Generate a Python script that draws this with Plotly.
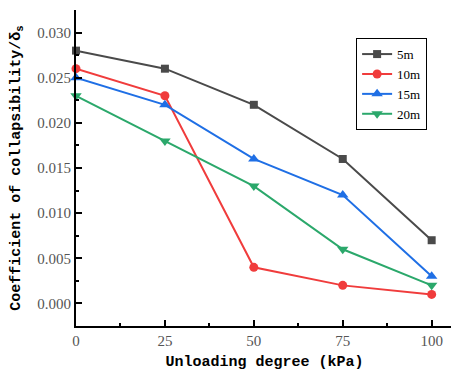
import plotly.graph_objects as go

unloading = [0, 25, 50, 75, 100]
s5 = [0.028, 0.026, 0.022, 0.016, 0.007]
s10 = [0.026, 0.023, 0.004, 0.002, 0.001]
s15 = [0.025, 0.022, 0.016, 0.012, 0.003]
s20 = [0.023, 0.018, 0.013, 0.006, 0.002]
names = ["5m", "10m", "15m", "20m"]
colors = ["#4a4a4a", "#f03c3c", "#1f6fe5", "#2ba86b"]
symbols = ["square", "circle", "triangle-up", "triangle-down"]
sizes = [8, 9, 10, 10]

fig = go.Figure()
for name, ys, c, s, sz in zip(names, [s5, s10, s15, s20], colors, symbols, sizes):
    fig.add_trace(go.Scatter(x=unloading, y=ys, name=name, mode="lines+markers",
                             line=dict(color=c, width=2),
                             marker=dict(symbol=s, size=sz, color=c),
                             cliponaxis=False))

serif = "Liberation Serif, DejaVu Serif, serif"
tickfont = dict(family=serif, size=15, color="#555555")
titlefont = dict(family="Liberation Mono", size=15, color="#000000")
# page body has an 8px margin, so the figure is sized to fit the window
fig.update_layout(
    width=451, height=363,
    margin=dict(l=68, r=6, t=2, b=45),
    plot_bgcolor="white", paper_bgcolor="white",
    showlegend=True,
    legend=dict(x=0.743, y=0.911, xanchor="left", yanchor="top",
                bordercolor="#000000", borderwidth=1, bgcolor="white",
                font=dict(family=serif, size=13, color="#000000"),
                itemwidth=30, tracegroupgap=0),
)
fig.update_xaxes(range=[0, 106], tickvals=[0, 25, 50, 75, 100],
                 ticks="inside", ticklen=6, tickwidth=2, tickcolor="black",
                 minor=dict(tickvals=[12.5, 37.5, 62.5, 87.5], ticks="inside", ticklen=3, tickwidth=2, tickcolor="black"),
                 showline=True, linewidth=2, linecolor="black", showgrid=False, zeroline=False,
                 tickfont=tickfont, automargin=False,
                 title=dict(text="<b>Unloading degree (kPa)</b>", font=titlefont))
fig.update_yaxes(range=[-0.0025, 0.0325], tickvals=[0, 0.005, 0.01, 0.015, 0.02, 0.025, 0.03],
                 ticktext=["0.000", "0.005", "0.010", "0.015", "0.020", "0.025", "0.030"],
                 ticks="inside", ticklen=6, tickwidth=2, tickcolor="black",
                 minor=dict(tickvals=[0.0025, 0.0075, 0.0125, 0.0175, 0.0225, 0.0275, 0.0325], ticks="inside", ticklen=3, tickwidth=2, tickcolor="black"),
                 showline=True, linewidth=2, linecolor="black", showgrid=False, zeroline=False,
                 tickfont=tickfont, automargin=False,
                 title=dict(text="<b>Coefficient of collapsibility/δ<sub>s</sub></b>", font=titlefont))

fig.write_html("out.html")
